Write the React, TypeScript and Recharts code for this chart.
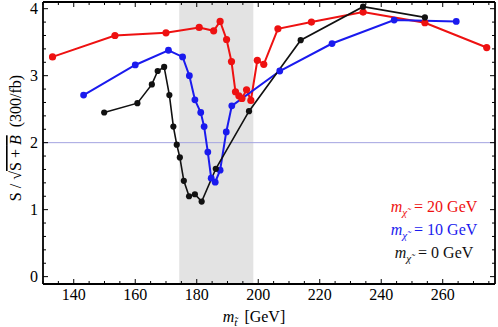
import React from 'react';
import { LineChart, Line, XAxis, YAxis, ReferenceArea, ReferenceLine } from 'recharts';

// m_stop values (GeV) and S/sqrt(S+B) values per series
const redX = [133.1, 153.4, 170.0, 180.8, 185.5, 187.6, 189.7, 191.3, 192.6, 193.7, 194.7, 196.2, 197.6, 199.7, 201.8, 206.4, 217.3, 234.1, 254.2, 274.3];
const redY = [3.28, 3.60, 3.64, 3.72, 3.67, 3.81, 3.54, 3.21, 2.76, 2.70, 2.66, 2.79, 2.63, 3.23, 3.17, 3.70, 3.80, 3.95, 3.79, 3.42];

const blueX = [143.2, 160.0, 170.8, 175.4, 177.6, 179.4, 181.3, 182.4, 183.6, 184.7, 186.0, 187.6, 189.6, 191.4, 207.0, 224.0, 244.2, 264.4];
const blueY = [2.71, 3.16, 3.38, 3.28, 3.00, 2.64, 2.45, 2.24, 1.86, 1.47, 1.41, 1.59, 2.16, 2.55, 3.07, 3.48, 3.83, 3.81];

const blackX = [149.9, 160.7, 165.4, 167.3, 169.4, 171.1, 172.4, 173.5, 174.5, 175.8, 177.5, 179.4, 181.6, 186.2, 197.0, 213.8, 234.1, 254.2];
const blackY = [2.45, 2.59, 2.87, 3.07, 3.13, 2.71, 2.24, 1.97, 1.78, 1.43, 1.20, 1.23, 1.12, 1.61, 2.47, 3.53, 4.03, 3.87];

const bandRange = [174.3, 198.4];
const thresholdY = 2;

const xMajorTicks = [140, 160, 180, 200, 220, 240, 260];
const yMajorTicks = [0, 1, 2, 3, 4];
const xDomain = [130, 277];
const yDomain = [-0.11, 4.1];

const xTicks: number[] = [];
for (let v = 130; v <= 275; v += 5) xTicks.push(v);
const yTicks: number[] = [];
for (let i = 0; i <= 20; i++) yTicks.push(Math.round(i * 0.2 * 10) / 10);

const zip = (xs: number[], ys: number[]) => xs.map((x, i) => ({ x, y: ys[i] }));
const redData = zip(redX, redY);
const blueData = zip(blueX, blueY);
const blackData = zip(blackX, blackY);

const FONT = '"Liberation Serif", "DejaVu Serif", serif';

const isMajorX = (v: number) => xMajorTicks.includes(v);
const isMajorY = (v: number) => yMajorTicks.some((m) => Math.abs(m - v) < 1e-6);

const XTickBottom = (p: any) => {
  const v = p.payload.value;
  const major = isMajorX(v);
  return (
    <g>
      <line x1={p.x} x2={p.x} y1={p.y} y2={p.y - (major ? 5 : 3)} stroke="#000" strokeWidth={1} />
      {major && (
        <text x={p.x} y={p.y + 15.5} textAnchor="middle" fontFamily={FONT} fontSize={16} fill="#000">
          {v}
        </text>
      )}
    </g>
  );
};
const XTickTop = (p: any) => {
  const v = p.payload.value;
  const major = isMajorX(v);
  return <line x1={p.x} x2={p.x} y1={p.y} y2={p.y + (major ? 5 : 3)} stroke="#000" strokeWidth={1} />;
};
const YTickLeft = (p: any) => {
  const v = p.payload.value;
  const major = isMajorY(v);
  return (
    <g>
      <line x1={p.x} x2={p.x + (major ? 5 : 3)} y1={p.y} y2={p.y} stroke="#000" strokeWidth={1} />
      {major && (
        <text x={p.x - 5} y={p.y + 5.5} textAnchor="end" fontFamily={FONT} fontSize={16} fill="#000">
          {Math.round(v)}
        </text>
      )}
    </g>
  );
};
const YTickRight = (p: any) => {
  const v = p.payload.value;
  const major = isMajorY(v);
  return <line x1={p.x} x2={p.x - (major ? 5 : 3)} y1={p.y} y2={p.y} stroke="#000" strokeWidth={1} />;
};

const legendItems = [
  { label: '20', color: '#ee1111' },
  { label: '10', color: '#1a1aee' },
  { label: '0', color: '#111111' },
];

const axisLine = { stroke: '#000', strokeWidth: 1.8 };

export default function App() {
  return (
    <div style={{ position: 'absolute', left: 0, top: 0 }}>
      <LineChart width={498} height={327} margin={{ top: 1, right: 2, bottom: 42, left: 42 }}>
        <XAxis
          xAxisId="b"
          dataKey="x"
          type="number"
          domain={xDomain}
          allowDataOverflow
          ticks={xTicks}
          interval={0}
          height={1}
          tickSize={0}
          tickMargin={0}
          tick={<XTickBottom />}
          axisLine={axisLine}
          tickLine={false}
        />
        <XAxis
          xAxisId="t"
          orientation="top"
          dataKey="x"
          type="number"
          domain={xDomain}
          allowDataOverflow
          ticks={xTicks}
          interval={0}
          height={1}
          tickSize={0}
          tickMargin={0}
          tick={<XTickTop />}
          axisLine={axisLine}
          tickLine={false}
        />
        <YAxis
          yAxisId="l"
          type="number"
          domain={yDomain}
          allowDataOverflow
          ticks={yTicks}
          interval={0}
          width={1}
          tickSize={0}
          tickMargin={0}
          tick={<YTickLeft />}
          axisLine={axisLine}
          tickLine={false}
        />
        <YAxis
          yAxisId="r"
          orientation="right"
          type="number"
          domain={yDomain}
          allowDataOverflow
          ticks={yTicks}
          interval={0}
          width={1}
          tickSize={0}
          tickMargin={0}
          tick={<YTickRight />}
          axisLine={axisLine}
          tickLine={false}
        />
        <ReferenceArea
          xAxisId="b"
          yAxisId="l"
          x1={bandRange[0]}
          x2={bandRange[1]}
          fill="#e3e3e3"
          fillOpacity={1}
          stroke="none"
        />
        <ReferenceLine xAxisId="b" yAxisId="l" y={thresholdY} stroke="#a3a3e0" strokeWidth={1} />
        <Line
          xAxisId="b"
          yAxisId="l"
          data={redData}
          dataKey="y"
          stroke="#ee1111"
          strokeWidth={2}
          dot={{ r: 3.6, fill: '#ee1111', stroke: 'none' }}
          isAnimationActive={false}
        />
        <Line
          xAxisId="t"
          yAxisId="r"
          data={blueData}
          dataKey="y"
          stroke="#1a1aee"
          strokeWidth={2}
          dot={{ r: 3.4, fill: '#1a1aee', stroke: 'none' }}
          isAnimationActive={false}
        />
        <Line
          xAxisId="b"
          yAxisId="l"
          data={blackData}
          dataKey="y"
          stroke="#111111"
          strokeWidth={1.6}
          dot={{ r: 3.1, fill: '#111111', stroke: 'none' }}
          isAnimationActive={false}
        />
        <text
          transform="rotate(-90)"
          x={-138}
          y={21}
          textAnchor="middle"
          fontFamily={FONT}
          fontSize={16}
          fill="#000"
        >
          S / √<tspan style={{ textDecoration: 'overline' }}>S + <tspan fontStyle="italic">B</tspan></tspan>
          <tspan dx={8}>(300/fb)</tspan>
        </text>
        <text x={254} y={322} textAnchor="middle" fontFamily={FONT} fontSize={16} fill="#000">
          <tspan fontStyle="italic">m</tspan>
          <tspan fontStyle="italic" fontSize={11} dy={4}>{'t\u0303'}</tspan>
          <tspan dy={-4} dx={3}>{'\u00a0[GeV]'}</tspan>
        </text>
        {legendItems.map((it, i) => (
          <text
            key={it.label}
            x={434}
            y={212 + i * 23}
            textAnchor="middle"
            fontFamily={FONT}
            fontSize={16}
            fill={it.color}
          >
            <tspan fontStyle="italic">m</tspan>
            <tspan fontStyle="italic" fontSize={11} dy={4}>{'\u03c7\u0303'}</tspan>
            <tspan dy={-4} dx={3}>{'\u00a0= '}{it.label}{' GeV'}</tspan>
          </text>
        ))}
      </LineChart>
    </div>
  );
}
